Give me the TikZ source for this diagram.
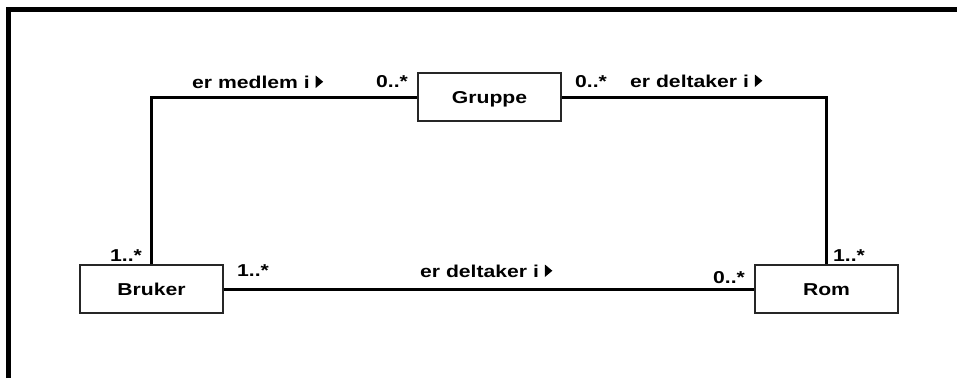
\documentclass[tikz,border=0pt]{standalone}
\usepackage{fontspec}
\setmainfont{Liberation Sans}[FakeStretch=1.23]
\newcommand{\assoctri}{\tikz[baseline=0pt]\fill[black] (0pt,0pt)--(0pt,12.5pt)--(7.5pt,6.25pt)--cycle;}
\begin{document}
\begin{tikzpicture}[x=1pt,y=-1pt,
  font=\fontsize{17.2}{20}\selectfont\bfseries,
  classbox/.style={draw=black!85, line width=1.3pt, minimum width=143pt, minimum height=48pt,
    inner sep=0pt, text height=12.3pt, text depth=0pt},
  assoc/.style={line width=3pt, black},
  lbl/.style={inner sep=0pt},
  frame/.style={line width=5pt, black}]
\useasboundingbox (0,0) rectangle (957,378);
% frame
\draw[frame] (8.5,378) -- (8.5,9.5) -- (957,9.5);
% classes
\node[classbox] (gruppe) at (489.5,97) {Gruppe};
\node[classbox] (bruker) at (151.5,289) {Bruker};
\node[classbox] (rom) at (826.5,289) {Rom};
% associations
\draw[assoc] (bruker.north) |- (gruppe.west);
\draw[assoc] (gruppe.east) -| (rom.north);
\draw[assoc] (bruker.east) -- (rom.west);
% labels
\node[lbl, anchor=base west] (l1) at (192,88) {er medlem i \assoctri};
\node[lbl, anchor=base west] (m1) at (376,87) {0..*};
\node[lbl, anchor=base west] (m2) at (575,87) {0..*};
\node[lbl, anchor=base west] (l2) at (630,87) {er deltaker i \assoctri};
\node[lbl, anchor=base west] (m3) at (110,261) {1..*};
\node[lbl, anchor=base west] (m4) at (833,261) {1..*};
\node[lbl, anchor=base west] (m5) at (237,276) {1..*};
\node[lbl, anchor=base west] (l3) at (420,277) {er deltaker i \assoctri};
\node[lbl, anchor=base west] (m6) at (713,283) {0..*};
\end{tikzpicture}
\end{document}
